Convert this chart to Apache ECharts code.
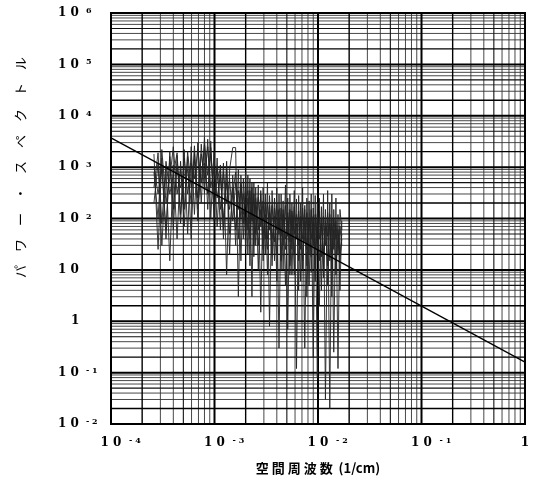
<!DOCTYPE html>
<html>
<head>
<meta charset="utf-8">
<script src="https://cdn.jsdelivr.net/npm/echarts@6/dist/echarts.min.js"></script>
<style>
html,body{margin:0;padding:0;background:#fff;}
#chart{width:539px;height:489px;}
</style>
</head>
<body>
<div id="chart"></div>
<script>
// spatial frequency (1/cm)
const FREQ = [
  2.6e-4, 2.85e-4, 3.1e-4, 3.4e-4, 3.7e-4, 4.0e-4, 4.35e-4, 4.7e-4, 5.1e-4, 5.5e-4,
  5.95e-4, 6.4e-4, 6.9e-4, 7.45e-4, 8.0e-4, 8.6e-4, 9.2e-4, 9.9e-4, 1.06e-3, 1.14e-3,
  1.22e-3, 1.31e-3, 1.4e-3, 1.5e-3, 1.6e-3, 1.7e-3, 1.8e-3, 1.9e-3, 2.0e-3, 2.1e-3,
  2.2e-3, 2.3e-3, 2.4e-3, 2.5e-3, 2.65e-3, 2.8e-3, 2.95e-3, 3.1e-3, 3.25e-3, 3.4e-3,
  3.6e-3, 3.8e-3, 4.0e-3, 4.2e-3, 4.4e-3, 4.6e-3, 4.85e-3, 5.1e-3, 5.35e-3, 5.6e-3,
  5.9e-3, 6.2e-3, 6.5e-3, 6.8e-3, 7.1e-3, 7.45e-3, 7.8e-3, 8.2e-3, 8.6e-3, 9.0e-3,
  9.4e-3, 9.85e-3, 1.03e-2, 1.08e-2, 1.13e-2, 1.18e-2, 1.24e-2, 1.3e-2, 1.36e-2, 1.42e-2,
  1.49e-2, 1.56e-2, 1.63e-2, 1.7e-2
];
// power spectrum, overlaid records
const POWER_A = [
  1800, 25, 1500, 40, 2000, 60, 1700, 80, 2200, 50,
  2500, 120, 3000, 200, 3900, 150, 3200, 90, 1500, 60,
  1200, 8, 900, 2400, 2400, 3, 700, 40, 800, 20,
  600, 3, 500, 30, 450, 1.5, 400, 20, 500, 0.8,
  350, 15, 400, 0.3, 300, 10, 450, 0.7, 300, 8,
  350, 0.12, 280, 6, 400, 0.3, 250, 5, 300, 0.2,
  280, 0.08, 250, 4, 300, 0.03, 350, 0.02, 300, 0.25,
  250, 0.12, 150, 60
];
const POWER_B = [
  200, 1200, 30, 900, 15, 1100, 40, 1300, 70, 1600,
  40, 2000, 90, 2800, 300, 3500, 100, 2000, 70, 1100,
  40, 900, 20, 700, 30, 900, 15, 600, 25, 700,
  12, 500, 18, 400, 10, 350, 25, 300, 8, 280,
  20, 250, 6, 300, 15, 220, 5, 250, 12, 200,
  8, 240, 4, 200, 10, 180, 3, 220, 9, 160,
  6, 200, 2, 170, 7, 150, 5, 200, 3, 150,
  8, 120, 4, 90
];
const POWER_C = [
  800, 100, 2200, 200, 600, 2500, 300, 900, 150, 2000,
  400, 1400, 250, 1800, 600, 2500, 400, 900, 250, 700,
  100, 500, 150, 400, 60, 350, 100, 300, 60, 250,
  40, 200, 80, 180, 30, 150, 50, 120, 25, 130,
  40, 110, 20, 100, 45, 120, 25, 90, 35, 100,
  20, 80, 30, 110, 15, 90, 25, 100, 18, 85,
  25, 90, 15, 80, 20, 70, 12, 80, 20, 60,
  10, 50, 15, 40
];
const POWER_D = [
  400, 1900, 80, 1300, 300, 700, 1900, 120, 1500, 300,
  1200, 600, 2200, 500, 2800, 700, 1800, 300, 1000, 150,
  800, 200, 600, 90, 500, 150, 450, 80, 400, 60,
  350, 90, 300, 50, 260, 70, 220, 40, 200, 60,
  180, 35, 200, 50, 160, 30, 180, 45, 150, 25,
  170, 40, 140, 25, 160, 35, 130, 20, 150, 30,
  120, 25, 140, 18, 110, 30, 130, 15, 100, 25,
  90, 20, 70, 30
];
const POWER_E = [
  1000, 300, 900, 60, 1600, 150, 1000, 400, 700, 900,
  200, 2600, 150, 1000, 1200, 300, 2400, 150, 600, 900,
  60, 1300, 50, 300, 800, 40, 500, 120, 200, 350,
  80, 400, 30, 250, 60, 300, 15, 200, 40, 180,
  12, 160, 60, 150, 10, 150, 40, 130, 8, 140,
  50, 120, 15, 100, 40, 150, 12, 90, 40, 110,
  10, 120, 40, 100, 10, 90, 45, 120, 10, 100,
  40, 60, 20, 50
];
// straight reference line
const REF_X = [1e-4, 1];
const REF_Y = [3700, 0.16];
// axis names
const X_NAME = '空 間 周 波 数  (1/cm)';
const Y_NAME = 'パ　ワ　ー　・　ス　ペ　ク　ト　ル';

const X_MIN = 1e-4, X_MAX = 1, Y_MIN = 1e-2, Y_MAX = 1e6;

function expOf(v) { return Math.round(Math.log10(v)); }
function supText(e) { return e < 0 ? '- ' + (-e) : String(e); }

// log-paper grid lines, grouped by weight (1 = decade, 2, 5, other)
const gridGroups = { 1: [], 2: [], 5: [], 0: [] };
function groupKey(m) { return (m === 1 || m === 2 || m === 5) ? m : 0; }
for (let k = -4; k <= 0; k++) {
  for (let m = 1; m <= 9; m++) {
    const v = m * Math.pow(10, k);
    if (v > X_MAX * 1.0000001) continue;
    gridGroups[groupKey(m)].push([v, Y_MIN], [v, Y_MAX], [v, '-']);
  }
}
for (let k = -2; k <= 6; k++) {
  for (let m = 1; m <= 9; m++) {
    const v = m * Math.pow(10, k);
    if (v > Y_MAX * 1.0000001) continue;
    gridGroups[groupKey(m)].push([X_MIN, v], [X_MAX, v], ['-', v]);
  }
}
const gridStyles = {
  1: { color: '#000', width: 2 },
  2: { color: '#000', width: 1.4 },
  5: { color: '#111', width: 1.1 },
  0: { color: '#333', width: 0.9 }
};
const gridSeries = [0, 5, 2, 1].map(function (key) {
  return {
    type: 'line', z: 1, silent: true, symbol: 'none', connectNulls: false,
    lineStyle: gridStyles[key], data: gridGroups[key]
  };
});

const labelFont = 'DejaVu Serif';
const rich = {
  b: { fontSize: 12, fontFamily: labelFont, fontWeight: 'bold', color: '#000' },
  s: { fontSize: 8, fontFamily: labelFont, fontWeight: 'bold', color: '#000', verticalAlign: 'top', padding: [0, 0, 0, 7], width: 13 },
  p: { width: 20 },
  q: { fontSize: 12, fontFamily: labelFont, fontWeight: 'bold', color: '#000', padding: [0, 0, 0, 13] }
};

const chart = echarts.init(document.getElementById('chart'), null, { renderer: 'canvas' });
const spectrumStyle = { color: '#222', width: 0.9 };
function spectrum(vals) {
  return { type: 'line', z: 3, silent: true, symbol: 'none', lineStyle: spectrumStyle, data: FREQ.map((f, i) => [f, vals[i]]) };
}
chart.setOption({
  animation: false,
  backgroundColor: '#fff',
  grid: { left: 111, right: 14, top: 13, bottom: 65, show: true, borderColor: '#000', borderWidth: 2, backgroundColor: '#fff' },
  xAxis: {
    type: 'log', logBase: 10, min: X_MIN, max: X_MAX, interval: 1,
    name: X_NAME, nameLocation: 'middle', nameGap: 38,
    nameTextStyle: { fontSize: 13, fontFamily: 'Noto Sans CJK JP', fontWeight: 'bold', color: '#000' },
    axisLine: { show: true, lineStyle: { color: '#000', width: 2 } },
    axisTick: { show: false },
    splitLine: { show: false },
    axisLabel: {
      margin: 13,
      formatter: function (v) {
        const e = expOf(v);
        if (e === 0) return '{b|1}';
        return '{p|}{b|1 0}{s|' + supText(e) + '}';
      },
      rich: rich
    }
  },
  yAxis: {
    type: 'log', logBase: 10, min: Y_MIN, max: Y_MAX, interval: 1,
    name: Y_NAME, nameLocation: 'middle', nameRotate: 90, nameGap: 84,
    nameTextStyle: { fontSize: 13, fontFamily: 'Noto Sans CJK JP', color: '#000', padding: [0, 0, 0, 102] },
    axisLine: { show: true, lineStyle: { color: '#000', width: 2 } },
    axisTick: { show: false },
    splitLine: { show: false },
    axisLabel: {
      margin: 53, align: 'left',
      formatter: function (v) {
        const e = expOf(v);
        if (e === 0) return '{q|1}';
        if (e === 1) return '{b|1 0}';
        return '{b|1 0}{s|' + supText(e) + '}';
      },
      rich: rich
    }
  },
  series: gridSeries.concat([
    spectrum(POWER_A),
    spectrum(POWER_B),
    spectrum(POWER_C),
    spectrum(POWER_D),
    spectrum(POWER_E),
    { type: 'line', z: 4, silent: true, symbol: 'none', lineStyle: { color: '#000', width: 1.3 }, data: REF_X.map((x, i) => [x, REF_Y[i]]) }
  ])
});
</script>
</body>
</html>
